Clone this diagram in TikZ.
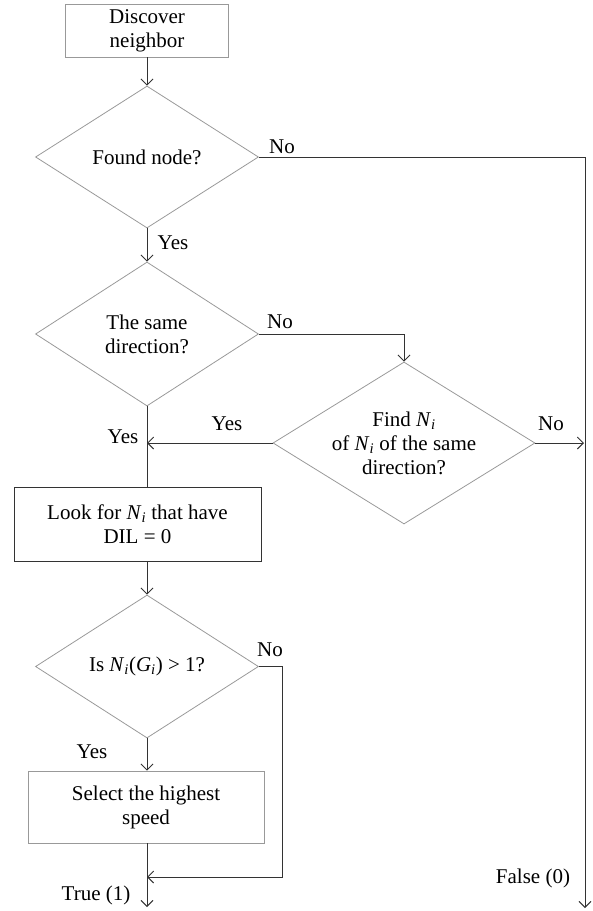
\documentclass[tikz,border=0pt]{standalone}
\usepackage{fontspec}
\setmainfont{Liberation Serif}
\usetikzlibrary{shapes.geometric,arrows.meta}
\newcommand{\Nsub}[1]{\textit{#1}\textsubscript{\textit{i}}}
\begin{document}
\begin{tikzpicture}[x=1pt,y=-1pt,
  font=\fontsize{21}{24}\selectfont,
  graybox/.style={draw=black!40,line width=0.8pt,align=center,inner sep=0pt},
  darkbox/.style={draw=black!80,line width=1pt,align=center,inner sep=0pt},
  decision/.style={diamond,draw=black!40,line width=0.8pt,align=center,inner sep=0pt,aspect=1.55},
  conn/.style={draw=black!80,line width=0.9pt,-{Straight Barb[length=6pt,width=12pt]}},
  line/.style={draw=black!80,line width=0.9pt},
  lbl/.style={inner sep=0pt}
]
\useasboundingbox (0,0) rectangle (593,911);
\node[graybox,minimum width=163pt,minimum height=53pt] (disc) at (147,30.5) {Discover\\neighbor};
\node[decision,minimum width=223pt,minimum height=142pt] (d1) at (147,157) {Found node?};
\node[decision,minimum width=223pt,minimum height=144pt] (d2) at (147,334) {The same\\direction?};
\node[decision,minimum width=262pt,minimum height=162pt] (d3) at (404,443) {Find \Nsub{N}\\of \Nsub{N} of the same\\direction?};
\node[darkbox,minimum width=247pt,minimum height=74pt] (look) at (137.5,524) {Look for \Nsub{N} that have\\DIL = 0};
\node[decision,minimum width=223pt,minimum height=143pt] (d4) at (147,666.5) {Is \Nsub{N}(\Nsub{G}) > 1?};
\node[graybox,minimum width=236pt,minimum height=72pt] (sel) at (146,807) {Select the highest\\speed};

\coordinate (rtop) at (585,157);
\coordinate (rend) at (585,908);
\coordinate (d2r) at (404,334);
\coordinate (d3l) at (147,443);
\coordinate (d3r) at (584,443);
\coordinate (d4a) at (282,666.5);
\coordinate (d4b) at (282,877);
\coordinate (merge) at (147,877);
\coordinate (tend) at (147,907);

\draw[conn] (disc.south) -- (d1.north);
\draw[conn] (d1.south) -- (d2.north);
\draw[line] (d1.east) -- (rtop);
\draw[conn] (rtop) -- (rend);
\draw[conn] (d2.east) -- (d2r) -- (d3.north);
\draw[line] (d2.south) -- (d2.south |- look.north);
\draw[conn] (d3.west) -- (d3l);
\draw[conn] (d3.east) -- (d3r);
\draw[conn] (d4.north |- look.south) -- (d4.north);
\draw[conn] (d4.south) -- (d4.south |- sel.north);
\draw[conn] (d4.east) -- (d4a) -- (d4b) -- (merge);
\draw[line] (merge |- sel.south) -- (merge);
\draw[conn] (merge) -- (tend);

\node[lbl] (l1) at (282,147) {No};
\node[lbl] (l2) at (173,243) {Yes};
\node[lbl] (l3) at (280,322) {No};
\node[lbl] (l4) at (123,437) {Yes};
\node[lbl] (l5) at (227,424) {Yes};
\node[lbl] (l6) at (551,424) {No};
\node[lbl] (l7) at (270,650) {No};
\node[lbl] (l8) at (92,752) {Yes};
\node[lbl] (l9) at (96,895) {True (1)};
\node[lbl] (l10) at (533,878) {False (0)};
\end{tikzpicture}
\end{document}
